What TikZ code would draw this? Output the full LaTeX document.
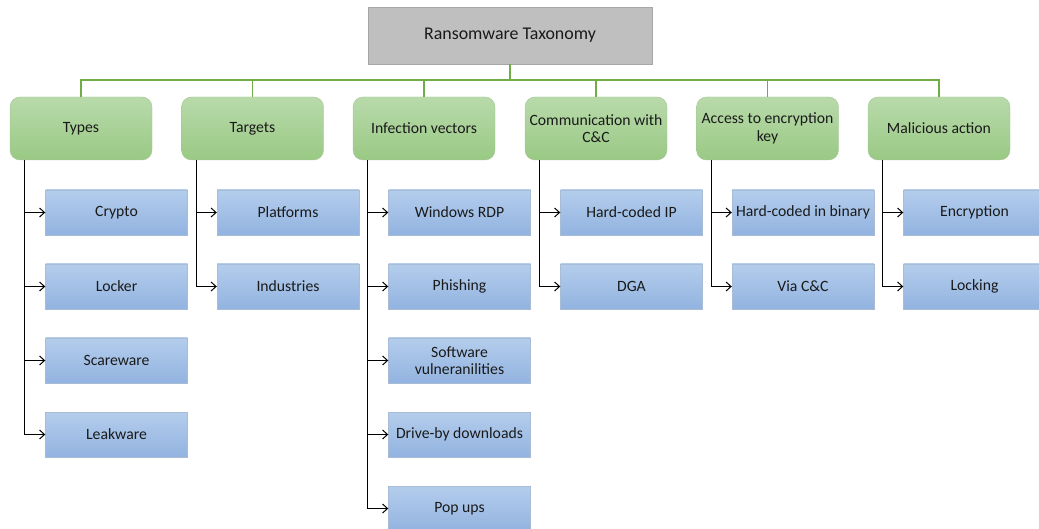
\documentclass[tikz,border=0pt]{standalone}
\usepackage{fontspec}
\setmainfont{Carlito}
\usetikzlibrary{arrows.meta}
\definecolor{rootfill}{HTML}{BFBFBF}
\definecolor{rootdraw}{HTML}{A6A6A6}
\definecolor{gtop}{HTML}{B9DAAB}
\definecolor{gbot}{HTML}{99C984}
\definecolor{gdraw}{HTML}{A3C495}
\definecolor{btop}{HTML}{B4CDEC}
\definecolor{bbot}{HTML}{92B3E0}
\definecolor{bdraw}{HTML}{A9BCD6}
\definecolor{busgreen}{HTML}{70AD47}
\definecolor{txt}{HTML}{1A1A1A}
\tikzset{
  rootbox/.style={draw=rootdraw, fill=rootfill, minimum width=284pt, minimum height=57pt, inner sep=0pt, text=txt, font=\fontsize{17.9}{21}\selectfont},
  catbox/.style={draw=gdraw, rounded corners=10pt, top color=gtop, bottom color=gbot, minimum width=142pt, minimum height=63pt, inner sep=0pt, align=center, text=txt, font=\fontsize{15.7}{17.5}\selectfont},
  leafbox/.style={draw=bdraw, top color=btop, bottom color=bbot, minimum width=142pt, minimum height=45pt, inner sep=0pt, align=center, text=txt, font=\fontsize{15.7}{17.5}\selectfont},
  bus/.style={draw=busgreen, line width=1.3pt},
  link/.style={draw=black, line width=1.3pt, -{Straight Barb[length=5pt,width=9pt,line width=1pt]}}
}
\begin{document}
\begin{tikzpicture}[x=1pt,y=-1pt]
\useasboundingbox (0,0) rectangle (1039,529);
\node[rootbox] (root) at (510,35.5) {Ransomware Taxonomy};
\coordinate (busroot) at (510,80);
% categories
\node[catbox] (c1) at (81,128.5) {Types};
\node[catbox] (c2) at (252.5,128.5) {Targets};
\node[catbox] (c3) at (424,128.5) {Infection vectors};
\node[catbox] (c4) at (596,128.5) {Communication with\\C\&C};
\node[catbox] (c5) at (767.5,128.5) {Access to encryption\\key};
\node[catbox] (c6) at (939,128.5) {Malicious action};
% green bus
\foreach \c in {c1,c2,c3,c4,c5,c6}{
  \draw[bus] (root.south) -- (busroot) -| (\c.north);
}
% leaves
\node[leafbox] (l11) at (116.5,212.5) {Crypto};
\node[leafbox] (l12) at (116.5,286.5) {Locker};
\node[leafbox] (l13) at (116.5,360.5) {Scareware};
\node[leafbox] (l14) at (116.5,434.5) {Leakware};
\node[leafbox] (l21) at (288,212.5) {Platforms};
\node[leafbox] (l22) at (288,286.5) {Industries};
\node[leafbox] (l31) at (459.5,212.5) {Windows RDP};
\node[leafbox] (l32) at (459.5,286.5) {Phishing};
\node[leafbox] (l33) at (459.5,360.5) {Software\\vulneranilities};
\node[leafbox] (l34) at (459.5,434.5) {Drive-by downloads};
\node[leafbox] (l35) at (459.5,508.5) {Pop ups};
\node[leafbox] (l41) at (631.5,212.5) {Hard-coded IP};
\node[leafbox] (l42) at (631.5,286.5) {DGA};
\node[leafbox] (l51) at (803,212.5) {Hard-coded in binary};
\node[leafbox] (l52) at (803,286.5) {Via C\&C};
\node[leafbox] (l61) at (974.5,212.5) {Encryption};
\node[leafbox] (l62) at (974.5,286.5) {Locking};
% trunk coordinates
\foreach \c in {c1,c2,c3,c4,c5,c6}{
  \coordinate (\c t) at ([xshift=15pt]\c.south west);
}
\foreach \c/\l in {c1/l11,c1/l12,c1/l13,c1/l14,c2/l21,c2/l22,c3/l31,c3/l32,c3/l33,c3/l34,c3/l35,c4/l41,c4/l42,c5/l51,c5/l52,c6/l61,c6/l62}{
  \draw[link] (\c t) |- (\l.west);
}
\end{tikzpicture}
\end{document}
